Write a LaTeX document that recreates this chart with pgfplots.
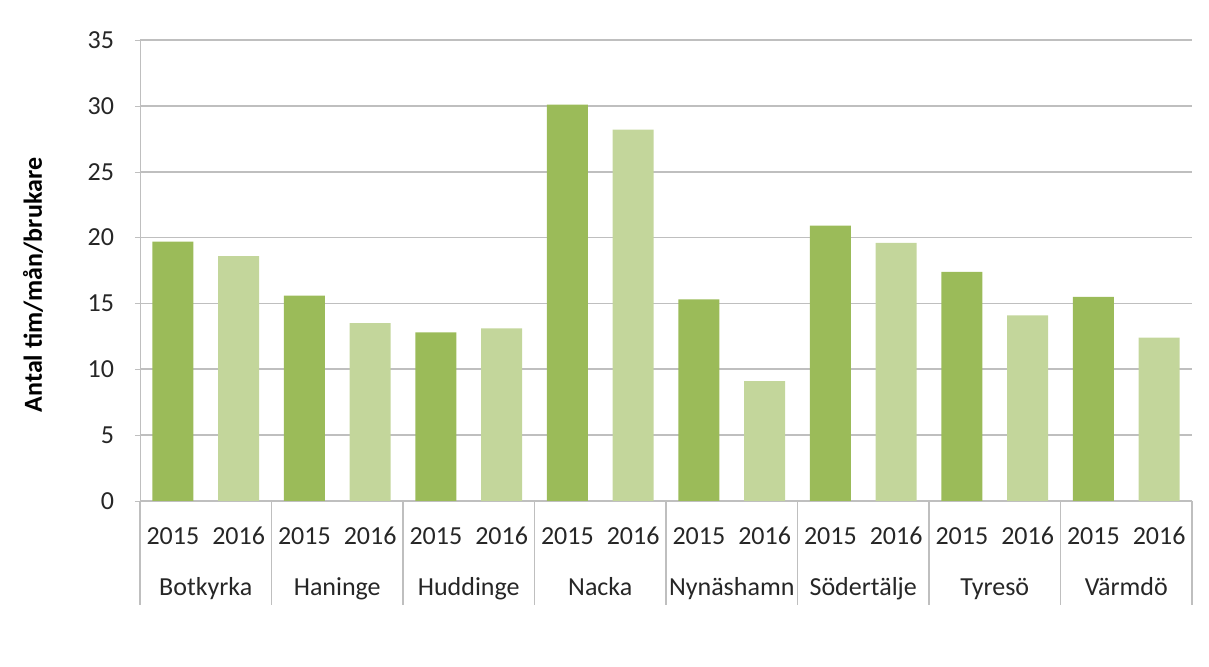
\documentclass[border=0pt]{standalone}
\usepackage{pgfplots}
\pgfplotsset{compat=1.18}
\usepackage{fontspec}
\setmainfont{Carlito}
\definecolor{dg}{HTML}{9BBB59}
\definecolor{lg}{HTML}{C3D69B}
\definecolor{gridc}{HTML}{BFBFBF}
\definecolor{txt}{HTML}{262626}
\tikzset{catlab/.style={font=\fontsize{13}{15}\selectfont, text=txt, anchor=base, yshift=-47.5pt}}
\begin{document}
\begin{tikzpicture}
\path[use as bounding box] (-70pt,-83pt) rectangle (534.5pt,250.5pt);
\begin{axis}[
  scale only axis, width=526pt, height=230.5pt,
  at={(0,0)}, anchor=south west,
  xmin=-0.5, xmax=15.5, ymin=0, ymax=35,
  enlargelimits=false,
  axis x line*=bottom, axis y line*=left,
  axis line style={gridc, -},
  ytick={0,5,...,35},
  ymajorgrids, grid style={gridc, line width=0.8pt},
  ytick style={gridc}, major tick length=2.5pt,
  tick align=outside,
  xtick={0,...,15},
  xticklabels={2015,2016,2015,2016,2015,2016,2015,2016,2015,2016,2015,2016,2015,2016,2015,2016},
  xtick style={draw=none},
  tick label style={font=\fontsize{13}{15}\selectfont, text=txt},
  xticklabel style={anchor=base, yshift=-19.5pt},
  yticklabel style={xshift=-7pt},
  /pgf/number format/assume math mode=true,
  ylabel={Antal tim/mån/brukare},
  ylabel style={font=\fontsize{13}{15}\selectfont\bfseries, text=black, at={(axis description cs:-0.1017,0.4685)}, anchor=center},
  clip=false,
]
\addplot[ybar, bar shift=0pt, bar width=20.5pt, fill=dg, draw=none] coordinates {
  (0,19.7) (2,15.6) (4,12.8) (6,30.1) (8,15.3) (10,20.9) (12,17.4) (14,15.5)};
\addplot[ybar, bar shift=0pt, bar width=20.5pt, fill=lg, draw=none] coordinates {
  (1,18.6) (3,13.5) (5,13.1) (7,28.2) (9,9.1) (11,19.6) (13,14.1) (15,12.4)};
\pgfplotsinvokeforeach{-0.5,1.5,3.5,5.5,7.5,9.5,11.5,13.5,15.5}{
  \draw[gridc, line width=0.8pt] (axis cs:#1,0) -- ([yshift=-52pt]axis cs:#1,0);
}
\node[catlab] at (axis cs:0.5,0) {Botkyrka};
\node[catlab] at (axis cs:2.5,0) {Haninge};
\node[catlab] at (axis cs:4.5,0) {Huddinge};
\node[catlab] at (axis cs:6.5,0) {Nacka};
\node[catlab] at (axis cs:8.5,0) {Nynäshamn};
\node[catlab] at (axis cs:10.5,0) {Södertälje};
\node[catlab] at (axis cs:12.5,0) {Tyresö};
\node[catlab] at (axis cs:14.5,0) {Värmdö};
\end{axis}
\end{tikzpicture}
\end{document}
